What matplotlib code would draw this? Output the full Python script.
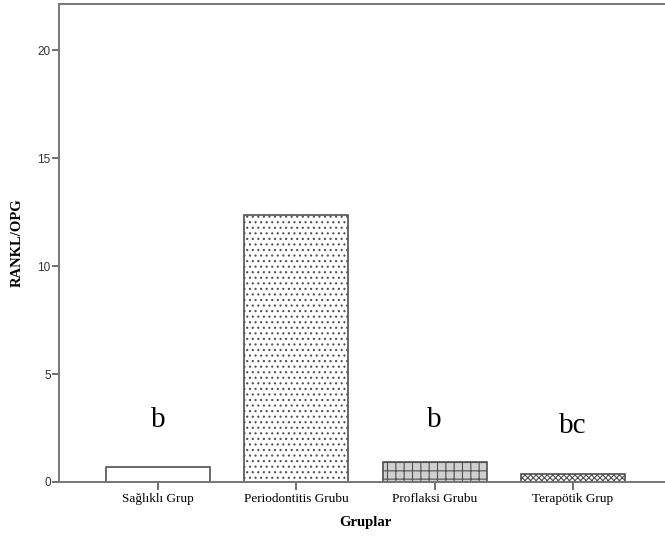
import matplotlib
matplotlib.use("Agg")
import matplotlib.pyplot as plt

groups = ["Sağlıklı Grup", "Periodontitis Grubu", "Proflaksi Grubu", "Terapötik Grup"]
ratio = [0.68, 12.37, 0.91, 0.37]
letters = ["b", "", "b", "bc"]
letter_y = [2.56, 0, 2.56, 2.27]
hatches = ["", "...", "++", "xxxxxx"]
fills = ["white", "white", "#d0d0d0", "white"]

plt.rcParams["hatch.color"] = "#555555"
plt.rcParams["hatch.linewidth"] = 0.8

fig = plt.figure(figsize=(6.65, 5.42), dpi=100)
# axes runs slightly past the right edge of the image, like the original
ax = fig.add_axes([59 / 665, 60 / 542, 613 / 665, 478 / 542])

x = range(len(groups))
ax.bar(x, ratio, width=0.75, color=fills, edgecolor="#505050",
       linewidth=1.2, hatch=hatches, zorder=2)

for i, t in enumerate(letters):
    if t:
        ax.text(i, letter_y[i], t, ha="center", va="baseline",
                fontsize=21, family="Liberation Serif")

ax.set_xlim(-0.716, 3.716)
ax.set_ylim(0, 22.13)
ax.set_xticks(list(x))
ax.set_xticklabels(groups, family="Liberation Serif", fontsize=9.5)
ax.set_yticks([0, 5, 10, 15, 20])
ax.set_yticklabels(["0", "5", "10", "15", "20"], family="Liberation Sans")
ax.tick_params(axis="y", labelsize=8.5, colors="#555555", labelcolor="#333333",
               length=5, width=1.2, pad=1)
ax.tick_params(axis="x", colors="#555555", labelcolor="black",
               length=6, width=1.2, pad=2)

for s in ["left", "top", "bottom", "right"]:
    ax.spines[s].set_color("#777777")
    ax.spines[s].set_linewidth(1.4)

ax.set_xlabel("Gruplar", family="Liberation Serif", fontsize=10.5,
              fontweight="bold", labelpad=8)
ax.set_ylabel("RANKL/OPG", family="Liberation Serif", fontsize=10.5,
              fontweight="bold", labelpad=10)

fig.savefig("out.png", dpi=100)
